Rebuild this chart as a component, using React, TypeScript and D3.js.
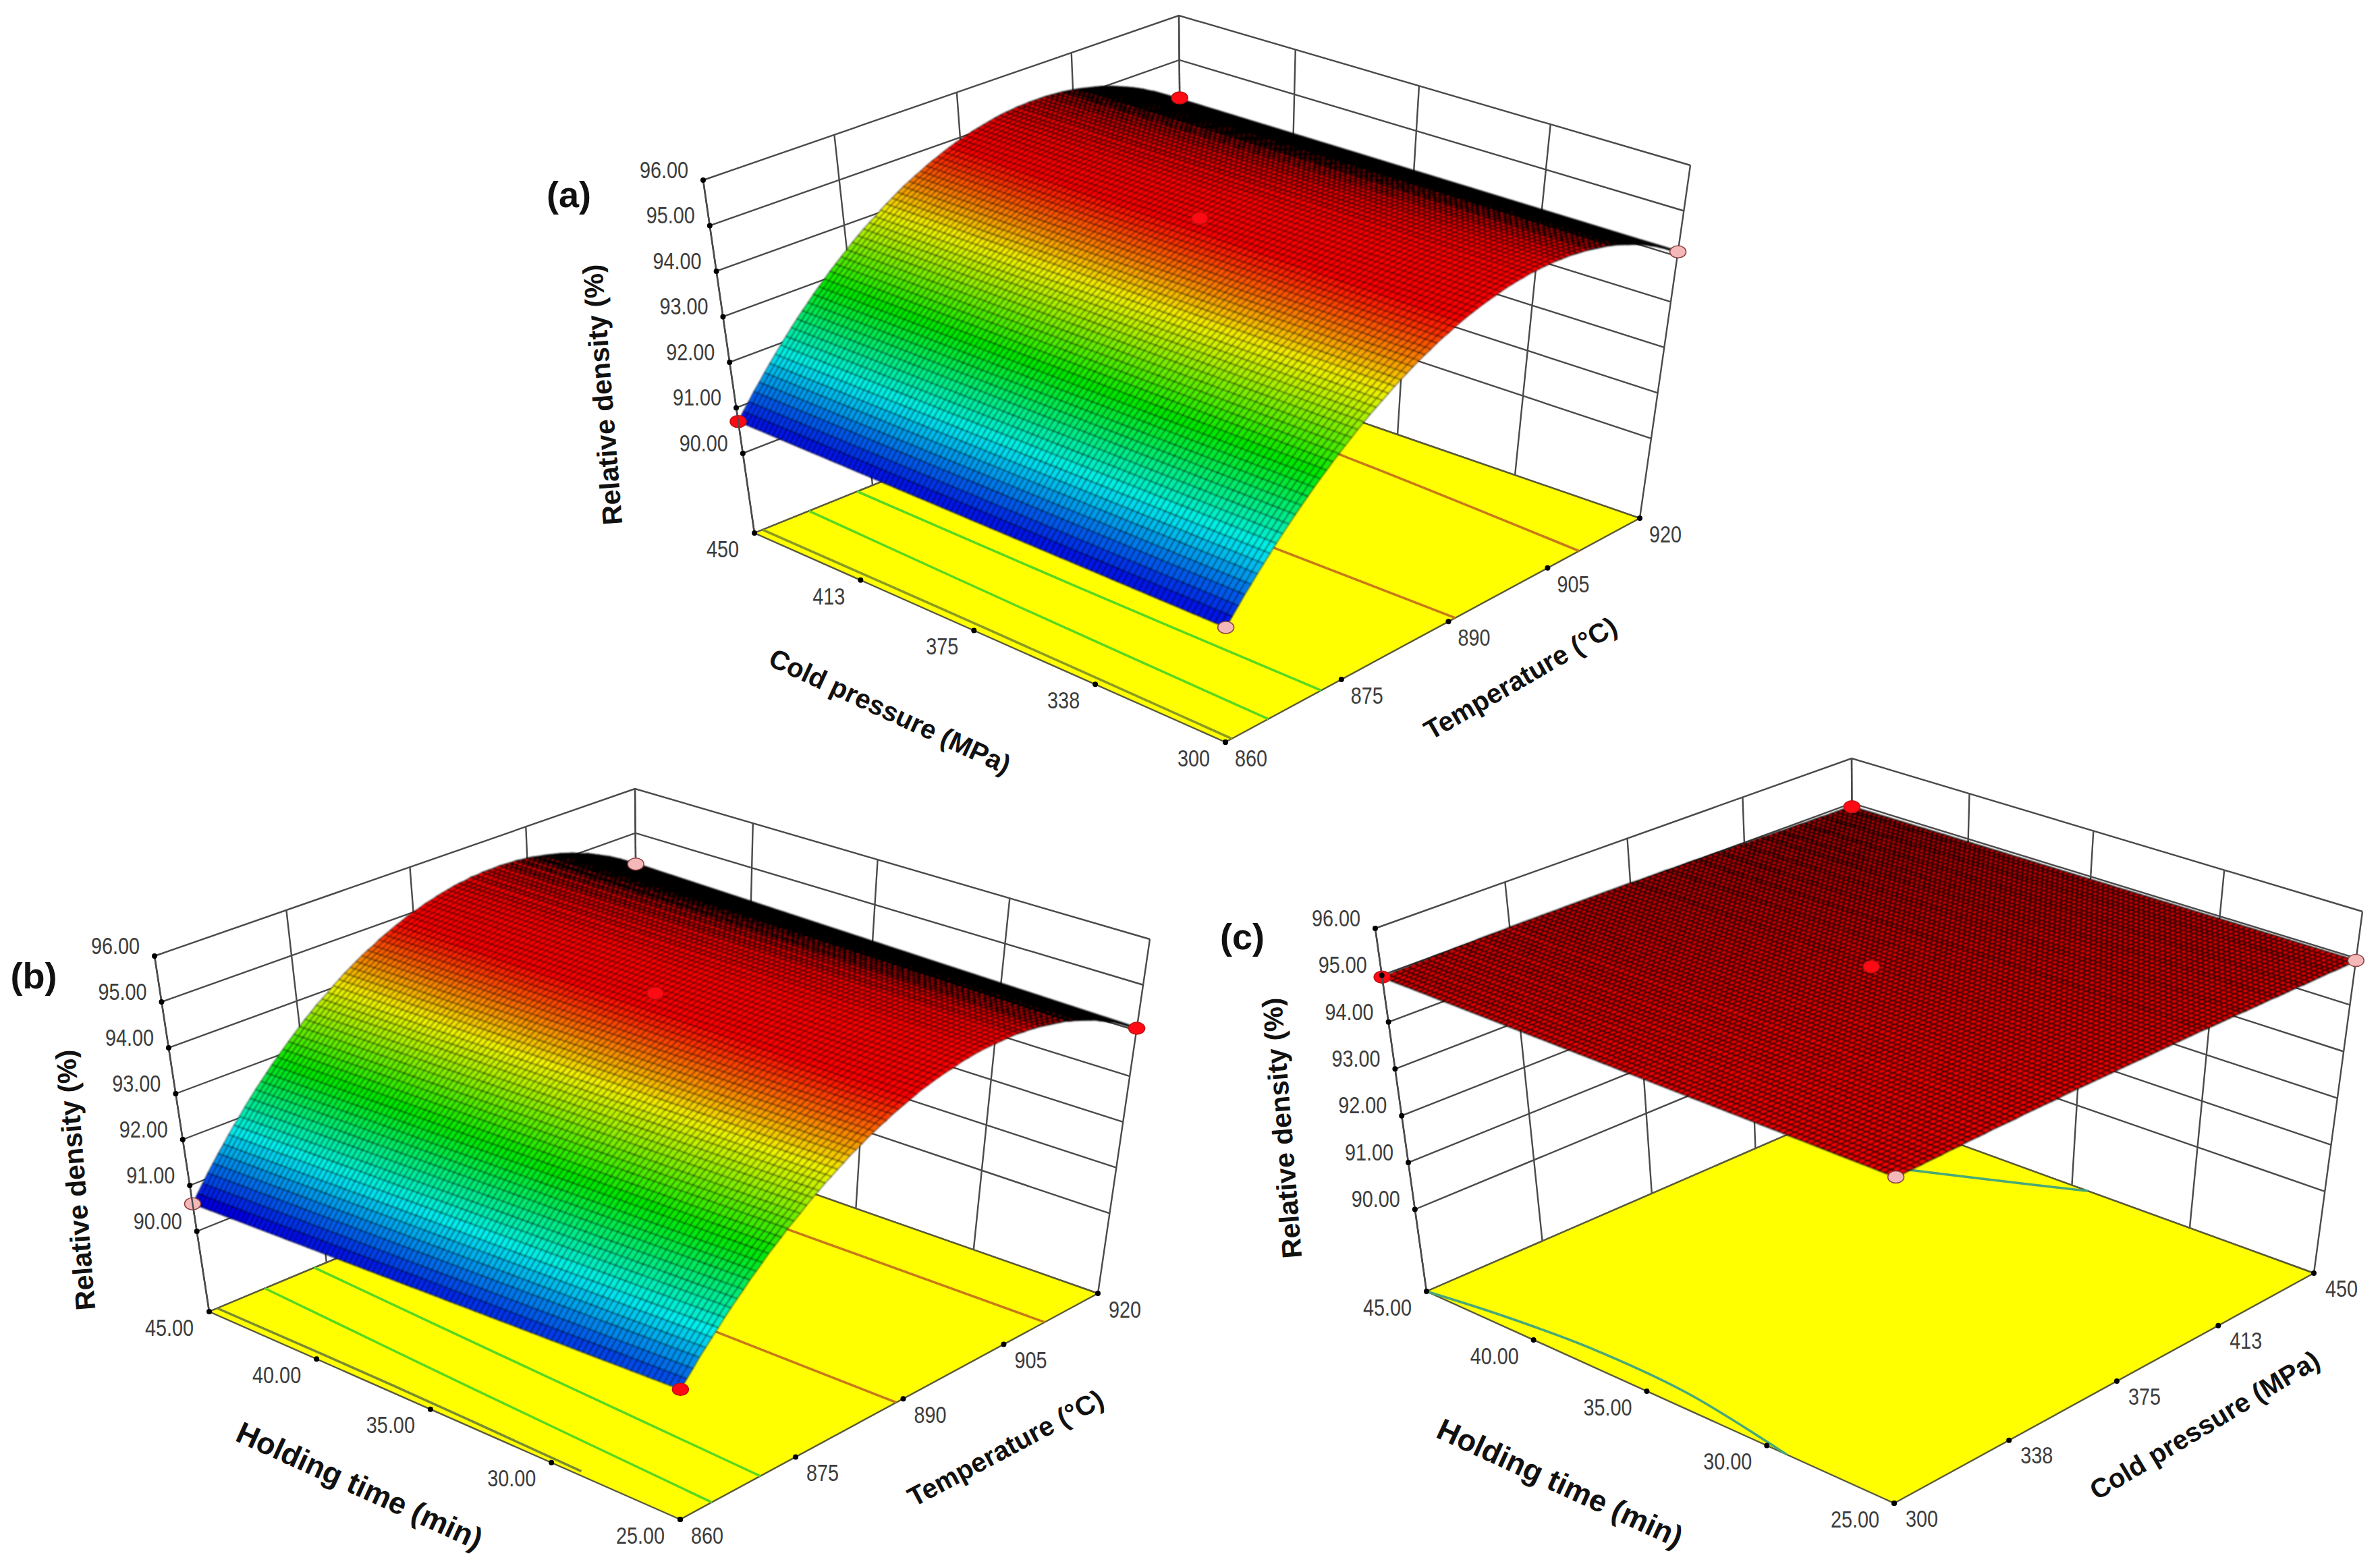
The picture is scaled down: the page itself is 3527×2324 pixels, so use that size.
import React, { useEffect, useRef } from 'react';
import * as d3 from 'd3';

type Pt = [number, number];

const WIDTH = 3527;
const HEIGHT = 2324;

const zTicks = [90, 91, 92, 93, 94, 95, 96];
const temperatureTicks = [860, 875, 890, 905, 920];
const pressureTicks = [300, 337.5, 375, 412.5, 450];
const holdingTicks = [25, 30, 35, 40, 45];

// density read along the temperature axis, 860 to 920 C
const densityA = [
  90.70, 90.87, 91.03, 91.20, 91.35, 91.51, 91.66, 91.81, 91.96, 92.10, 92.24, 92.38, 92.51, 92.64, 92.77, 92.89, 93.01,
  93.13, 93.24, 93.35, 93.46, 93.57, 93.67, 93.77, 93.86, 93.95, 94.04, 94.13, 94.21, 94.29, 94.37, 94.44, 94.51, 94.57,
  94.64, 94.70, 94.75, 94.81, 94.86, 94.91, 94.95, 94.99, 95.03, 95.06, 95.09, 95.12, 95.15, 95.17, 95.19, 95.20, 95.22,
  95.22, 95.23, 95.23, 95.23, 95.23, 95.22, 95.21, 95.20, 95.18, 95.16, 95.14, 95.11, 95.08, 95.05, 95.02, 94.98, 94.94,
  94.89, 94.84, 94.79, 94.74, 94.68, 94.62, 94.55, 94.49, 94.41, 94.34, 94.26, 94.18, 94.10,
];
// panel (b), holding time 25 min edge
const densityB25 = [
  91.00, 91.16, 91.31, 91.48, 91.62, 91.77, 91.91, 92.06, 92.20, 92.33, 92.46, 92.60, 92.72, 92.84, 92.97, 93.08, 93.19,
  93.31, 93.41, 93.51, 93.62, 93.72, 93.81, 93.91, 93.99, 94.08, 94.16, 94.25, 94.32, 94.39, 94.47, 94.53, 94.60, 94.65,
  94.72, 94.77, 94.82, 94.87, 94.92, 94.97, 95.00, 95.04, 95.07, 95.10, 95.12, 95.15, 95.18, 95.19, 95.21, 95.22, 95.23,
  95.23, 95.23, 95.23, 95.23, 95.23, 95.22, 95.20, 95.19, 95.17, 95.15, 95.12, 95.09, 95.06, 95.03, 95.00, 94.95, 94.91,
  94.86, 94.81, 94.76, 94.71, 94.64, 94.58, 94.51, 94.45, 94.37, 94.30, 94.22, 94.13, 94.05,
];
// panel (b), holding time 45 min edge
const densityB45 = [
  90.60, 90.77, 90.94, 91.11, 91.27, 91.43, 91.58, 91.74, 91.89, 92.03, 92.18, 92.32, 92.46, 92.59, 92.72, 92.85, 92.97,
  93.09, 93.21, 93.32, 93.44, 93.55, 93.65, 93.76, 93.85, 93.94, 94.04, 94.13, 94.22, 94.30, 94.38, 94.46, 94.53, 94.59,
  94.67, 94.73, 94.79, 94.85, 94.90, 94.96, 95.00, 95.04, 95.09, 95.12, 95.16, 95.19, 95.22, 95.25, 95.27, 95.28, 95.31,
  95.31, 95.33, 95.33, 95.33, 95.34, 95.33, 95.32, 95.32, 95.30, 95.29, 95.27, 95.24, 95.22, 95.19, 95.16, 95.13, 95.09,
  95.05, 95.00, 94.95, 94.91, 94.85, 94.79, 94.73, 94.67, 94.60, 94.53, 94.45, 94.38, 94.30,
];
// panel (c), along cold pressure 300 to 450 MPa, at 25 min
const densityC25 = [
  94.93, 94.93, 94.94, 94.94, 94.94, 94.95, 94.95, 94.95, 94.96, 94.96, 94.96, 94.97, 94.97, 94.97, 94.97, 94.98, 94.98,
  94.98, 94.98, 94.98, 94.99, 94.99, 94.99, 94.99, 94.99, 94.99, 94.99, 95.00, 95.00, 95.00, 95.00, 95.00, 95.00, 95.00,
  95.00, 95.00, 95.00, 95.00, 95.00, 95.00, 95.00, 95.00, 95.00, 95.00, 95.00, 95.00, 95.00, 95.00, 95.00, 95.00, 95.00,
  95.00, 94.99, 94.99, 94.99, 94.99, 94.99, 94.99, 94.99, 94.98, 94.98, 94.98, 94.98, 94.98, 94.98, 94.97, 94.97, 94.97,
  94.97, 94.97, 94.96, 94.96, 94.96, 94.96, 94.96, 94.96, 94.95, 94.95, 94.95, 94.95, 94.95,
];
// panel (c), at 45 min
const densityC45 = [
  94.96, 94.96, 94.97, 94.97, 94.97, 94.98, 94.98, 94.98, 94.99, 94.99, 94.99, 95.00, 95.00, 95.00, 95.00, 95.01, 95.01,
  95.01, 95.01, 95.01, 95.02, 95.02, 95.02, 95.02, 95.02, 95.02, 95.02, 95.02, 95.02, 95.02, 95.02, 95.02, 95.02, 95.02,
  95.02, 95.02, 95.02, 95.02, 95.02, 95.02, 95.02, 95.01, 95.01, 95.01, 95.01, 95.01, 95.01, 95.00, 95.00, 95.00, 95.00,
  95.00, 94.99, 94.99, 94.99, 94.99, 94.98, 94.98, 94.98, 94.98, 94.97, 94.97, 94.97, 94.97, 94.96, 94.96, 94.96, 94.95,
  94.95, 94.95, 94.95, 94.94, 94.94, 94.94, 94.94, 94.93, 94.93, 94.93, 94.93, 94.92, 94.92,
];

const colorStops = [90.7, 91.83, 92.95, 94.05, 94.9];
const colorRange = ['#0000e6', '#00f0f0', '#00e800', '#f4f400', '#ff0000'];

// contour lines on the floor: [cross value, along value]
const contoursA = [
  { color: '#8a9a20', pts: [[300, 860.8], [375, 861], [450, 861]] },
  { color: '#58d820', pts: [[300, 865.4], [375, 866], [450, 866.8]] },
  { color: '#58d820', pts: [[300, 872.3], [375, 872.5], [450, 873]] },
  { color: '#c87818', pts: [[300, 891], [375, 891], [450, 891]] },
  { color: '#c87818', pts: [[300, 910], [375, 912], [450, 913]] },
];
const contoursB = [
  { color: '#7a8a30', pts: [[29, 860.6], [37, 861], [45, 861]] },
  { color: '#58d820', pts: [[25, 864], [35, 865.4], [45, 867]] },
  { color: '#58d820', pts: [[25, 870.3], [35, 871.8], [45, 873.4]] },
  { color: '#c87818', pts: [[25, 889], [35, 889], [45, 889]] },
  { color: '#c87818', pts: [[25, 911.4], [35, 911.4], [45, 911.4]] },
];
const contoursC = [
  { color: '#48a878', pts: [[29.2, 300], [34, 305.5], [38.4, 306], [42, 303.5], [45, 300]] },
  { color: '#48a878', pts: [[34.3, 450], [37.5, 438], [40.5, 427]] },
];

const RED = '#ff0a14';
const PINK = '#f4b8b8';

const designA = [
  { cross: 450, along: 860, z: 90.7, fill: RED },
  { cross: 300, along: 860, z: 90.7, fill: PINK },
  { cross: 300, along: 920, z: 94.1, fill: PINK },
  { cross: 450, along: 920, z: 94.15, fill: RED },
  { cross: 375, along: 890, z: 95.0, fill: RED },
];
const designB = [
  { cross: 45, along: 860, z: 90.6, fill: PINK },
  { cross: 25, along: 860, z: 91.0, fill: RED },
  { cross: 25, along: 920, z: 94.05, fill: RED },
  { cross: 45, along: 920, z: 94.3, fill: PINK },
  { cross: 35, along: 890, z: 95.0, fill: RED },
];
const designC = [
  { cross: 45, along: 300, z: 94.96, fill: RED },
  { cross: 25, along: 300, z: 94.93, fill: PINK },
  { cross: 25, along: 450, z: 94.95, fill: PINK },
  { cross: 45, along: 450, z: 94.92, fill: RED },
  { cross: 35, along: 375, z: 95.0, fill: RED },
];

const panels = [
  {
    letter: '(a)', letterAt: [843, 288] as Pt,
    floor: [[1816, 1100], [1118, 790], [1752, 534], [2430, 768]] as Pt[],
    roof: [[1818, 562], [1042, 267], [1747, 23], [2505, 245]] as Pt[],
    crossDomain: [300, 450], alongDomain: [860, 920],
    crossTicks: pressureTicks, alongTicks: temperatureTicks, crossFormat: '.0f',
    crossOffset: [-47, 23] as Pt, alongOffset: [38, 23] as Pt,
    near: densityA, far: densityA, cells: 100, meshWidth: 1.15,
    contours: contoursA, design: designA,
    zTitle: [893, 585] as Pt,
    crossTitle: { text: 'Cold pressure (MPa)', at: [1319, 1054] as Pt, angle: 24.8, size: 40 },
    alongTitle: { text: 'Temperature (°C)', at: [2253, 1005] as Pt, angle: -30, size: 40 },
  },
  {
    letter: '(b)', letterAt: [50, 1446] as Pt,
    floor: [[1008, 2252], [310, 1944], [946, 1678], [1627, 1917]] as Pt[],
    roof: [[1009, 1709], [229, 1417], [941, 1169], [1704, 1392]] as Pt[],
    crossDomain: [25, 45], alongDomain: [860, 920],
    crossTicks: holdingTicks, alongTicks: temperatureTicks, crossFormat: '.2f',
    crossOffset: [-59, 23] as Pt, alongOffset: [40, 23] as Pt,
    near: densityB25, far: densityB45, cells: 100, meshWidth: 1.15,
    contours: contoursB, design: designB,
    zTitle: [112, 1749] as Pt,
    crossTitle: { text: 'Holding time (min)', at: [533, 2202] as Pt, angle: 24.4, size: 45 },
    alongTitle: { text: 'Temperature (°C)', at: [1490, 2146] as Pt, angle: -28, size: 40 },
  },
  {
    letter: '(c)', letterAt: [1841, 1388] as Pt,
    floor: [[2807, 2228], [2114, 1914], [2747, 1639], [3429, 1887]] as Pt[],
    roof: [[2810, 1667], [2038, 1376], [2744, 1124], [3501, 1351]] as Pt[],
    crossDomain: [25, 45], alongDomain: [300, 450],
    crossTicks: holdingTicks, alongTicks: pressureTicks, crossFormat: '.2f',
    crossOffset: [-58, 23] as Pt, alongOffset: [41, 22] as Pt,
    near: densityC25, far: densityC45, cells: 100, meshWidth: 2,
    contours: contoursC, design: designC,
    zTitle: [1900, 1672] as Pt,
    crossTitle: { text: 'Holding time (min)', at: [2312, 2198] as Pt, angle: 24.7, size: 45 },
    alongTitle: { text: 'Cold pressure (MPa)', at: [3267, 2112] as Pt, angle: -31, size: 40 },
  },
];

// unit square to quad, corners in the order (0,0) (1,0) (1,1) (0,1)
function homography(q: Pt[]) {
  const [[x0, y0], [x1, y1], [x2, y2], [x3, y3]] = q;
  const dx1 = x1 - x2, dx2 = x3 - x2, sx = x0 - x1 + x2 - x3;
  const dy1 = y1 - y2, dy2 = y3 - y2, sy = y0 - y1 + y2 - y3;
  const den = dx1 * dy2 - dx2 * dy1;
  const g = (sx * dy2 - dx2 * sy) / den;
  const h = (dx1 * sy - sx * dy1) / den;
  const a = x1 - x0 + g * x1, b = x3 - x0 + h * x3;
  const d = y1 - y0 + g * y1, e = y3 - y0 + h * y3;
  return (u: number, v: number): Pt => {
    const w = g * u + h * v + 1;
    return [(a * u + b * v + x0) / w, (d * u + e * v + y0) / w];
  };
}

const App = () => {
  const svgRef = useRef<SVGSVGElement>(null);

  useEffect(() => {
    const svg = d3.select(svgRef.current);
    svg.selectAll('*').remove();

    svg.append('defs').append('filter').attr('id', 'soft')
      .append('feGaussianBlur').attr('stdDeviation', 0.8);

    const zScale = d3.scaleLinear().domain([88.25, 96]).range([0, 1]);
    const color = d3.scaleLinear<string>().domain(colorStops).range(colorRange).clamp(true);
    const sans = "'Liberation Sans', Arial, sans-serif";

    panels.forEach((p) => {
      const g = svg.append('g');
      const cross = d3.scaleLinear().domain(p.crossDomain).range([0, 1]);
      const along = d3.scaleLinear().domain(p.alongDomain).range([0, 1]);
      const base = homography(p.floor);
      const top = homography(p.roof);
      const project = (u: number, v: number, zv: number): Pt => {
        const b = base(u, v), t = top(u, v);
        const k = zScale(zv);
        return [b[0] + (t[0] - b[0]) * k, b[1] + (t[1] - b[1]) * k];
      };
      const zMin = zScale.domain()[0];
      const line = d3.line();
      const gridStroke = '#4a4a4a';
      const wire = (pts: Pt[]) =>
        g.append('path').attr('d', line(pts)).attr('fill', 'none').attr('stroke', gridStroke).attr('stroke-width', 2.4);

      // back walls
      [zMin, ...zTicks].forEach((z) => {
        wire([project(1, 0, z), project(1, 1, z), project(0, 1, z)]);
      });
      p.alongTicks.forEach((t) => wire([project(1, along(t), zMin), project(1, along(t), 96)]));
      p.crossTicks.forEach((t) => wire([project(cross(t), 1, zMin), project(cross(t), 1, 96)]));

      // floor
      g.append('path')
        .attr('d', line(p.floor) + 'Z')
        .attr('fill', '#ffff00')
        .attr('stroke', '#5a5a3a')
        .attr('stroke-width', 2.4);

      const contourLine = d3.line().curve(d3.curveCatmullRom);
      p.contours.forEach((c) => {
        g.append('path')
          .attr('d', contourLine(c.pts.map(([a, b]) => base(cross(a), along(b)))))
          .attr('fill', 'none')
          .attr('stroke', c.color)
          .attr('stroke-width', 3.5);
      });

      // surface cells, far corner first so the near ones paint over them.
      // foreshortened cells get a heavier outline, that is what blackens the ridge
      const n = p.near.length - 1;
      const m = p.cells;
      const zAt = (i: number, j: number) => p.near[i] + ((p.far[i] - p.near[i]) * j) / m;
      const meshWidth = d3.scaleLinear().domain([15, 60]).range([3, p.meshWidth]).clamp(true);
      const cells: { d: string; fill: string; w: number }[] = [];
      for (let j = m - 1; j >= 0; j--) {
        for (let i = n - 1; i >= 0; i--) {
          const z00 = zAt(i, j), z01 = zAt(i + 1, j), z11 = zAt(i + 1, j + 1), z10 = zAt(i, j + 1);
          const quad = [
            project(j / m, i / n, z00),
            project(j / m, (i + 1) / n, z01),
            project((j + 1) / m, (i + 1) / n, z11),
            project((j + 1) / m, i / n, z10),
          ];
          cells.push({
            d: line(quad) + 'Z',
            fill: color((z00 + z01 + z11 + z10) / 4),
            w: meshWidth(Math.abs(d3.polygonArea(quad))),
          });
        }
      }
      g.append('g')
        .attr('filter', 'url(#soft)')
        .attr('stroke', '#000')
        .attr('stroke-linejoin', 'round')
        .selectAll('path')
        .data(cells)
        .join('path')
        .attr('d', (d) => d.d)
        .attr('stroke-width', (d) => d.w)
        .attr('fill', (d) => d.fill);

      // design points
      p.design.forEach((d) => {
        const [x, y] = project(cross(d.cross), along(d.along), d.z);
        g.append('ellipse')
          .attr('cx', x).attr('cy', y).attr('rx', 12).attr('ry', 9)
          .attr('fill', d.fill).attr('stroke', d.fill === RED ? '#c01010' : '#8a4040').attr('stroke-width', 1.5);
      });

      // ticks and labels, squeezed sideways like the original's narrow digits
      const tickText = (at: Pt, off: Pt, text: string) =>
        g.append('text')
          .attr('transform', `translate(${at[0] + off[0]},${at[1] + off[1]}) scale(0.8,1)`)
          .attr('text-anchor', 'middle').attr('dominant-baseline', 'central')
          .attr('font-family', sans).attr('font-size', 36).attr('fill', '#3c3c3c')
          .text(text);
      const dot = (at: Pt) => g.append('circle').attr('cx', at[0]).attr('cy', at[1]).attr('r', 4).attr('fill', '#000');

      wire([project(1, 0, zMin), project(1, 0, 96)]);
      zTicks.forEach((z) => {
        const at = project(1, 0, z);
        dot(at);
        tickText(at, [-58, -16], d3.format('.2f')(z));
      });
      const crossFmt = d3.format(p.crossFormat);
      p.crossTicks.forEach((t) => {
        const at = base(cross(t), 0);
        dot(at);
        tickText(at, p.crossOffset, crossFmt(t));
      });
      p.alongTicks.forEach((t) => {
        const at = base(0, along(t));
        dot(at);
        tickText(at, p.alongOffset, d3.format('.0f')(t));
      });

      const title = (text: string, at: Pt, angle: number, size = 40) =>
        g.append('text')
          .attr('transform', `translate(${at[0]},${at[1]}) rotate(${angle})`)
          .attr('text-anchor', 'middle').attr('dominant-baseline', 'central')
          .attr('font-family', sans).attr('font-weight', 'bold').attr('font-size', size).attr('fill', '#111')
          .text(text);
      title('Relative density (%)', p.zTitle, -94.5, 41);
      title(p.crossTitle.text, p.crossTitle.at, p.crossTitle.angle, p.crossTitle.size);
      title(p.alongTitle.text, p.alongTitle.at, p.alongTitle.angle, p.alongTitle.size);
      title(p.letter, p.letterAt, 0, 54);
    });
  }, []);

  return (
    <svg
      ref={svgRef}
      width={WIDTH}
      height={HEIGHT}
      viewBox={`0 0 ${WIDTH} ${HEIGHT}`}
      style={{ position: 'absolute', left: 0, top: 0, background: '#fff' }}
    />
  );
};

export default App;
